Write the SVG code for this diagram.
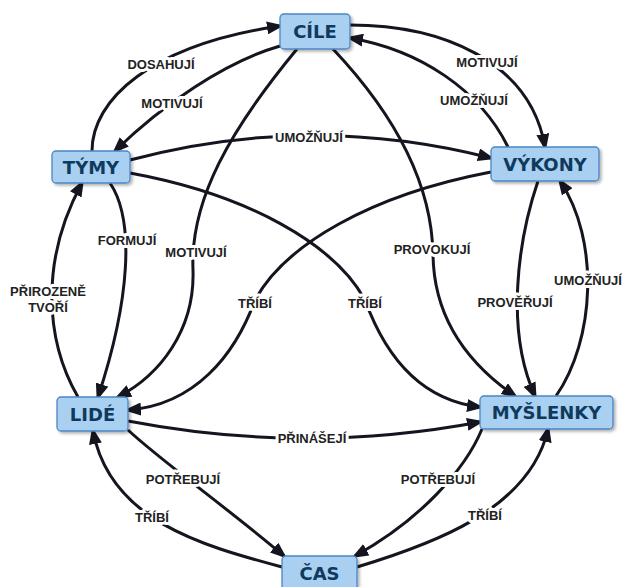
<svg xmlns="http://www.w3.org/2000/svg" width="622" height="587" viewBox="0 0 622 587">
<defs>
<style>
.node rect { fill: #a9cff1; stroke: #4d86c4; stroke-width: 1.3; filter: url(#sh); }
.node text { font-family: "DejaVu Sans", Verdana, sans-serif; font-weight: bold; font-size: 18px; fill: #0e3a5d; text-anchor: middle; }
.edge { fill: none; stroke: #151520; stroke-width: 3; marker-end: url(#ah); }
.lbl { font-family: "Liberation Sans", Arial, sans-serif; font-weight: bold; font-size: 13px; fill: #222; text-anchor: middle; stroke: #fff; stroke-width: 6; stroke-linejoin: round; paint-order: stroke; }
</style>
<marker id="ah" markerUnits="userSpaceOnUse" markerWidth="17" markerHeight="13" refX="13" refY="6.5" orient="auto">
<path d="M0,0 L17,6.5 L0,13 z" fill="#151520"/>
</marker>
<filter id="sh" x="-20%" y="-30%" width="140%" height="170%">
<feDropShadow dx="2" dy="2" stdDeviation="1.5" flood-color="#000" flood-opacity="0.3"/>
</filter>
</defs>
<rect width="622" height="587" fill="#fff"/>
<g id="connectors">
<path class="edge" d="M 92 151 C 92 100, 150 45, 280 26"/>
<path class="edge" d="M 280 46 C 225 62, 162 105, 115 151"/>
<path class="edge" d="M 130 160 Q 310 112, 491 158"/>
<path class="edge" d="M 130 173 C 250 195, 335 245, 365 300 C 385 355, 420 400, 480 407"/>
<path class="edge" d="M 491 172 C 370 195, 285 245, 255 300 C 235 355, 195 405, 128 410"/>
<path class="edge" d="M 297 49 C 230 130, 190 200, 193 270 C 195 330, 160 375, 118 397"/>
<path class="edge" d="M 333 49 C 400 120, 432 190, 433 255 C 434 320, 470 365, 515 396"/>
<path class="edge" d="M 350 25 C 440 25, 530 60, 545 147"/>
<path class="edge" d="M 508 147 C 480 90, 420 50, 350 38"/>
<path class="edge" d="M 538 181 C 518 240, 505 330, 535 396"/>
<path class="edge" d="M 556 396 C 595 340, 600 240, 560 181"/>
<path class="edge" d="M 110 183 C 135 220, 130 300, 98 397"/>
<path class="edge" d="M 78 397 C 45 340, 40 260, 82 183"/>
<path class="edge" d="M 128 421 Q 305 455, 480 422"/>
<path class="edge" d="M 128 430 C 160 460, 230 510, 284 556"/>
<path class="edge" d="M 282 567 C 200 545, 110 520, 93 431"/>
<path class="edge" d="M 482 429 C 465 470, 420 520, 355 556"/>
<path class="edge" d="M 357 567 C 430 545, 530 510, 548 429"/>
<text class="lbl" x="161" y="68.5">DOSAHUJÍ</text>
<text class="lbl" x="172" y="107.5">MOTIVUJÍ</text>
<text class="lbl" x="309" y="141.5">UMOŽŇUJÍ</text>
<text class="lbl" x="487" y="66.5">MOTIVUJÍ</text>
<text class="lbl" x="474" y="104.5">UMOŽŇUJÍ</text>
<text class="lbl" x="127" y="244.5">FORMUJÍ</text>
<text class="lbl" x="196" y="256.5">MOTIVUJÍ</text>
<text class="lbl" x="432" y="253.5">PROVOKUJÍ</text>
<text class="lbl" x="48" y="295.5">PŘIROZENĚ</text>
<text class="lbl" x="48" y="311.5">TVOŘÍ</text>
<text class="lbl" x="255" y="307.5">TŘÍBÍ</text>
<text class="lbl" x="365" y="307.5">TŘÍBÍ</text>
<text class="lbl" x="515" y="306.5">PROVĚŘUJÍ</text>
<text class="lbl" x="588" y="284.5">UMOŽŇUJÍ</text>
<text class="lbl" x="312" y="442.5">PŘINÁŠEJÍ</text>
<text class="lbl" x="183" y="483.5">POTŘEBUJÍ</text>
<text class="lbl" x="152" y="521.5">TŘÍBÍ</text>
<text class="lbl" x="438" y="483.5">POTŘEBUJÍ</text>
<text class="lbl" x="485" y="519.5">TŘÍBÍ</text>
</g>
<g id="node-cile" class="node"><rect x="280" y="14" width="70" height="35" rx="4"/><text x="315" y="38">CÍLE</text></g>
<g id="node-tymy" class="node"><rect x="52" y="151" width="78" height="32" rx="4"/><text x="91" y="174">TÝMY</text></g>
<g id="node-vykony" class="node"><rect x="491" y="147" width="108" height="34" rx="4"/><text x="545" y="170.5">VÝKONY</text></g>
<g id="node-lide" class="node"><rect x="57" y="397" width="71" height="34" rx="4"/><text x="92.5" y="420.5">LIDÉ</text></g>
<g id="node-myslenky" class="node"><rect x="480" y="396" width="133" height="33" rx="4"/><text x="546.5" y="419">MYŠLENKY</text></g>
<g id="node-cas" class="node"><rect x="282" y="556" width="75" height="36" rx="4"/><text x="319.5" y="580">ČAS</text></g>
</svg>
